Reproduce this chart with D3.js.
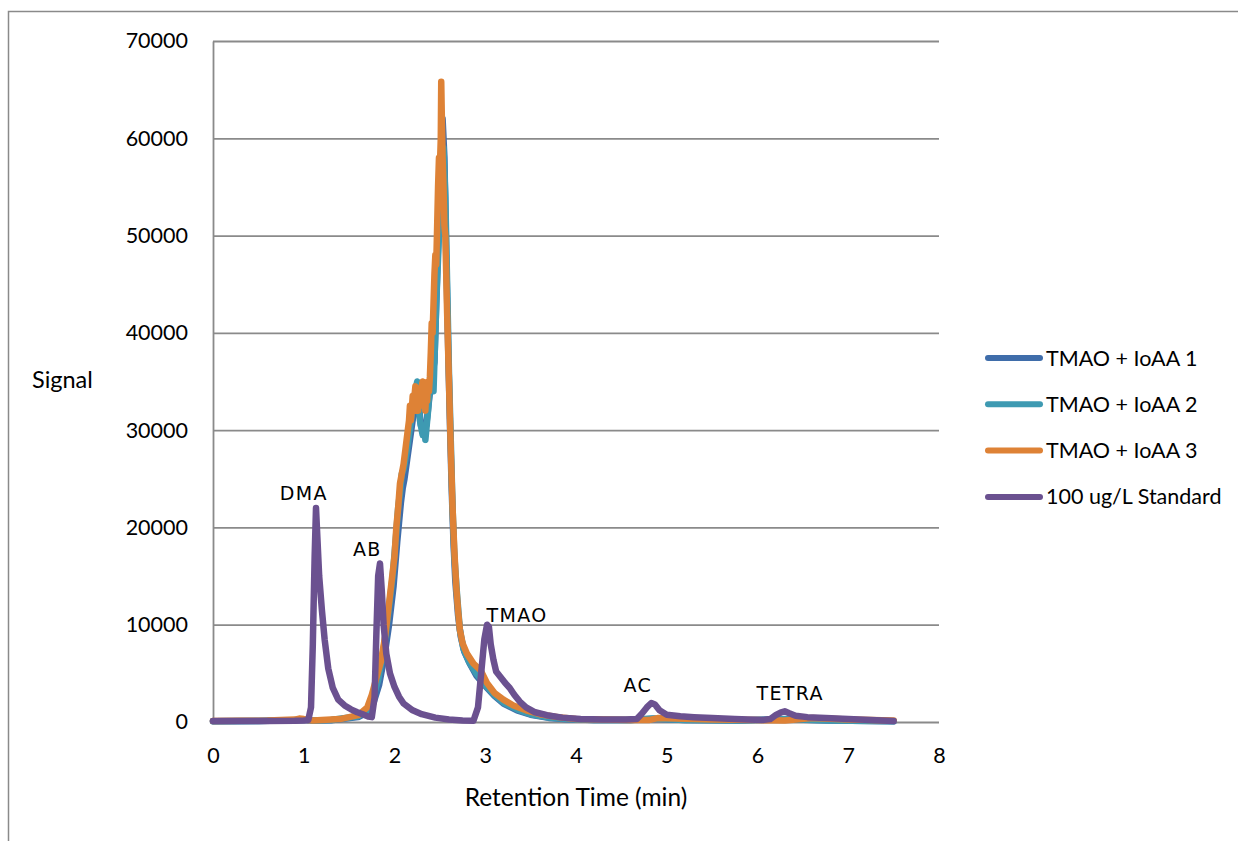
<!DOCTYPE html>
<html>
<head>
<meta charset="utf-8">
<script src="https://cdn.jsdelivr.net/npm/d3@7/dist/d3.min.js"></script>
<style>
  html, body { margin: 0; padding: 0; background: #fff; }
  svg { display: block; }
</style>
</head>
<body>
<svg id="chart" width="1238" height="841"></svg>
<script>
// ---------- DATA ----------
const seriesNames = ["TMAO + IoAA 1", "TMAO + IoAA 2", "TMAO + IoAA 3", "100 ug/L Standard"];
const seriesColors = ["#3F6DAA", "#3E9AB2", "#DE8236", "#6B5190"];

const xTicks = [0, 1, 2, 3, 4, 5, 6, 7, 8];
const yTicks = [0, 10000, 20000, 30000, 40000, 50000, 60000, 70000];

const timeS1 = [0, 0.5, 0.9, 1.0, 1.1, 1.3, 1.6, 1.7, 1.77, 1.83, 1.89, 1.94, 1.99, 2.03, 2.05, 2.07, 2.09, 2.11, 2.14, 2.17, 2.2, 2.23, 2.26, 2.29, 2.32, 2.35, 2.38, 2.41, 2.44, 2.47, 2.5, 2.53, 2.55, 2.57, 2.59, 2.61, 2.63, 2.65, 2.67, 2.7, 2.73, 2.77, 2.83, 2.9, 3.0, 3.1, 3.2, 3.35, 3.5, 3.7, 3.9, 4.2, 4.6, 4.85, 5.2, 5.8, 6.3, 6.8, 7.5];
const signalS1 = [80, 100, 180, 220, 150, 180, 500, 1000, 2000, 3800, 6800, 10000, 14000, 18500, 20500, 22500, 24000, 25000, 27000, 29000, 31000, 32500, 33500, 30500, 30000, 30500, 33000, 35500, 37000, 46000, 55000, 62000, 58000, 48000, 39000, 31000, 24000, 18500, 14500, 11000, 8800, 7200, 6000, 4800, 3700, 2700, 1900, 1200, 750, 420, 280, 200, 200, 330, 200, 150, 280, 150, 80];

const timeS2 = [0, 0.5, 0.9, 1.0, 1.1, 1.3, 1.6, 1.7, 1.76, 1.82, 1.88, 1.93, 1.98, 2.02, 2.04, 2.06, 2.08, 2.1, 2.13, 2.16, 2.19, 2.22, 2.25, 2.28, 2.31, 2.33, 2.34, 2.36, 2.37, 2.4, 2.43, 2.46, 2.49, 2.52, 2.54, 2.56, 2.58, 2.6, 2.62, 2.64, 2.66, 2.69, 2.72, 2.76, 2.82, 2.9, 3.0, 3.1, 3.2, 3.35, 3.5, 3.7, 3.9, 4.2, 4.6, 4.85, 5.2, 5.8, 6.3, 6.8, 7.5];
const signalS2 = [80, 100, 200, 250, 150, 200, 600, 1200, 2400, 4300, 7500, 11000, 15000, 19500, 22000, 23500, 25500, 26000, 27500, 29500, 31500, 33500, 35000, 31000, 29500, 30500, 29000, 31000, 32000, 36000, 34000, 43000, 50000, 57000, 59000, 54000, 45000, 36000, 29000, 22000, 17000, 13000, 9500, 7500, 6200, 5000, 3800, 2800, 2000, 1300, 800, 450, 300, 200, 200, 350, 200, 150, 300, 150, 80];

const timeS3 = [0, 0.3, 0.6, 0.9, 0.95, 1.0, 1.05, 1.1, 1.2, 1.4, 1.6, 1.7, 1.75, 1.8, 1.85, 1.9, 1.95, 2.0, 2.02, 2.04, 2.06, 2.08, 2.1, 2.12, 2.14, 2.16, 2.17, 2.18, 2.19, 2.2, 2.21, 2.22, 2.23, 2.24, 2.25, 2.26, 2.27, 2.28, 2.29, 2.3, 2.31, 2.32, 2.33, 2.34, 2.35, 2.36, 2.37, 2.38, 2.39, 2.4, 2.41, 2.42, 2.43, 2.44, 2.45, 2.46, 2.47, 2.48, 2.49, 2.5, 2.51, 2.515, 2.52, 2.53, 2.54, 2.55, 2.56, 2.58, 2.6, 2.62, 2.64, 2.66, 2.68, 2.7, 2.72, 2.75, 2.8, 2.87, 2.95, 3.02, 3.1, 3.2, 3.31, 3.45, 3.6, 3.8, 4.0, 4.3, 4.6, 4.8, 4.9, 5.1, 5.5, 6.0, 6.3, 6.6, 7.0, 7.5];
const signalS3 = [100, 120, 150, 250, 350, 300, 200, 150, 200, 300, 700, 1500, 2800, 4500, 6200, 9000, 13000, 17000, 20000, 22000, 24500, 25500, 26500, 28000, 29500, 31000, 32500, 31000, 32000, 33500, 32000, 33500, 34500, 32000, 33000, 32000, 34000, 32500, 33500, 34500, 35000, 32500, 34000, 32000, 34000, 33000, 35000, 34000, 35500, 38000, 41000, 40000, 43000, 46000, 48000, 47000, 51000, 55000, 58000, 57000, 60000, 65800, 63000, 58000, 55000, 51000, 50000, 42000, 35000, 28000, 22000, 17500, 14000, 11500, 9500, 8100, 7000, 6000, 5300, 4000, 3000, 2300, 1700, 1200, 800, 500, 300, 250, 200, 200, 400, 350, 250, 200, 150, 400, 250, 150, 100];

const timeStd = [0, 0.3, 0.6, 0.9, 1.0, 1.05, 1.08, 1.1, 1.12, 1.135, 1.15, 1.17, 1.2, 1.23, 1.27, 1.32, 1.38, 1.45, 1.52, 1.59, 1.65, 1.71, 1.75, 1.78, 1.8, 1.82, 1.84, 1.86, 1.88, 1.91, 1.95, 2.0, 2.05, 2.1, 2.2, 2.3, 2.45, 2.6, 2.75, 2.87, 2.92, 2.96, 2.99, 3.02, 3.04, 3.06, 3.09, 3.12, 3.17, 3.22, 3.27, 3.32, 3.38, 3.45, 3.55, 3.68, 3.85, 4.05, 4.3, 4.55, 4.67, 4.72, 4.78, 4.83, 4.87, 4.92, 5.0, 5.15, 5.3, 5.5, 5.75, 6.05, 6.14, 6.2, 6.26, 6.3, 6.35, 6.42, 6.55, 6.75, 7.0, 7.25, 7.5];
const signalStd = [100, 100, 100, 120, 150, 200, 1500, 8000, 17000, 22000, 19000, 15000, 11500, 8500, 5500, 3500, 2300, 1700, 1300, 1000, 800, 550, 500, 2500, 9000, 15000, 16300, 13500, 10000, 7000, 5000, 3600, 2600, 1900, 1200, 800, 450, 250, 150, 120, 1500, 5500, 8500, 10000, 9800, 8000, 6400, 5200, 4600, 4000, 3500, 2800, 2100, 1500, 1000, 700, 450, 300, 250, 250, 300, 800, 1500, 1950, 1800, 1200, 750, 600, 500, 400, 300, 200, 300, 700, 1000, 1100, 900, 650, 500, 400, 300, 200, 100];

const peakLabels = ["DMA", "AB", "TMAO", "AC", "TETRA"];
const peakLabelTime = [1.0, 1.7, 3.35, 4.68, 6.36];
const peakLabelSignal = [22800, 17050, 10300, 3100, 2250];

// ---------- LAYOUT ----------
const svg = d3.select("#chart");
const plot = { left: 213, right: 939, top: 41, bottom: 722 };
const x = d3.scaleLinear().domain([0, 8]).range([plot.left, plot.right]);
const y = d3.scaleLinear().domain([0, 70000]).range([plot.bottom, plot.top]);
const gridColor = "#8A8A8A";
const fontMain = "Lato, 'Open Sans', sans-serif";

// outer frame (clipped by the image)
svg.append("path")
  .attr("d", `M8.5,${841} L8.5,11.5 L1238,11.5`)
  .attr("fill", "none").attr("stroke", "#8A8A8A").attr("stroke-width", 1.5);

// gridlines via axis
const yGrid = d3.axisLeft(y).tickValues(yTicks).tickSize(-(plot.right - plot.left)).tickFormat("");
const gGrid = svg.append("g").attr("transform", `translate(${plot.left},0)`).call(yGrid);
gGrid.select(".domain").remove();
gGrid.selectAll(".tick line").attr("stroke", gridColor).attr("stroke-width", 1.8);

// y axis line + labels
const yAxis = d3.axisLeft(y).tickValues(yTicks).tickSize(0).tickPadding(25).tickFormat(d3.format("d"));
const gY = svg.append("g").attr("transform", `translate(${plot.left},0)`).call(yAxis);
gY.select(".domain").attr("stroke", gridColor).attr("stroke-width", 1.8);
gY.selectAll("text").attr("font-family", fontMain).attr("font-size", 21.5).attr("fill", "#000");

// x axis labels
const xAxis = d3.axisBottom(x).tickValues(xTicks).tickSize(0).tickPadding(26).tickFormat(d3.format("d"));
const gX = svg.append("g").attr("transform", `translate(0,${plot.bottom})`).call(xAxis);
gX.select(".domain").remove();
gX.selectAll("text").attr("font-family", fontMain).attr("font-size", 21.5).attr("fill", "#000");

// axis titles
svg.append("text").attr("x", 32).attr("y", 388).text("Signal")
  .attr("font-family", fontMain).attr("font-size", 23.5).attr("fill", "#000");
svg.append("text").attr("x", 576).attr("y", 806).attr("text-anchor", "middle").text("Retention Time (min)")
  .attr("font-family", fontMain).attr("font-size", 24.5).attr("fill", "#000");

// series
const seriesTimes = [timeS1, timeS2, timeS3, timeStd];
const seriesValues = [signalS1, signalS2, signalS3, signalStd];
const line = d3.line().x(d => x(d[0])).y(d => y(d[1]));
seriesNames.forEach((name, i) => {
  const pts = seriesTimes[i].map((t, j) => [t, seriesValues[i][j]]);
  svg.append("path").datum(pts).attr("d", line)
    .attr("fill", "none").attr("stroke", seriesColors[i]).attr("stroke-width", 6.5)
    .attr("stroke-linejoin", "round").attr("stroke-linecap", "round");
});

// peak labels
peakLabels.forEach((lab, i) => {
  svg.append("text").attr("x", x(peakLabelTime[i])).attr("y", y(peakLabelSignal[i]))
    .attr("text-anchor", "middle").text(lab)
    .attr("font-family", "'DejaVu Sans', Verdana, sans-serif").attr("font-size", 19)
    .attr("letter-spacing", 1.3).attr("fill", "#000");
});

// legend
const legendY0 = 358, legendStep = 46.3;
seriesNames.forEach((name, i) => {
  const yy = legendY0 + i * legendStep;
  svg.append("line").attr("x1", 988).attr("x2", 1040).attr("y1", yy).attr("y2", yy)
    .attr("stroke", seriesColors[i]).attr("stroke-width", 6).attr("stroke-linecap", "round");
  svg.append("text").attr("x", 1046).attr("y", yy + 7.5).text(name)
    .attr("font-family", fontMain).attr("font-size", 21.5).attr("fill", "#000");
});
</script>
</body>
</html>
